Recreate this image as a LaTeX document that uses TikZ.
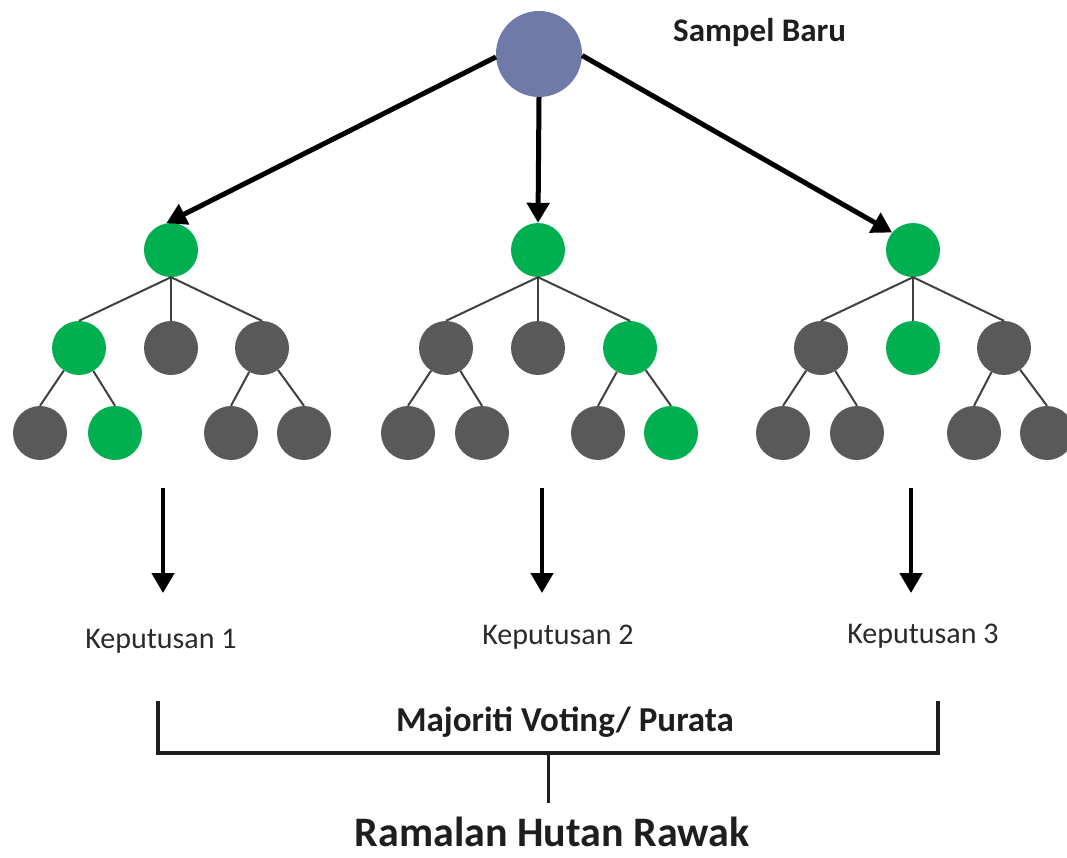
\documentclass[tikz,border=0pt]{standalone}
\usepackage{fontspec}
\setmainfont{Carlito}
\usetikzlibrary{arrows.meta}
\definecolor{rootblue}{HTML}{6F7AA8}
\definecolor{leafgreen}{HTML}{00B050}
\definecolor{leafgray}{HTML}{595959}
\definecolor{inkdark}{HTML}{1E1E1E}
\definecolor{inksoft}{HTML}{2A2A2A}
\begin{document}
\begin{tikzpicture}[x=1pt,y=-1pt,
  dot/.style={circle,minimum size=54pt,inner sep=0pt},
  gnode/.style={dot,fill=leafgreen},
  knode/.style={dot,fill=leafgray},
  branch/.style={draw=inkdark!85,line width=2pt},
  bigarrow/.style={draw=black,line width=5pt,-{Triangle[length=20pt,width=22pt]}},
  downarrow/.style={draw=black,line width=4.5pt,-{Triangle[length=20pt,width=22pt]}},
  label/.style={text=inksoft,inner sep=0pt,font=\fontsize{30}{36}\selectfont},
  boldlabel/.style={text=inkdark,inner sep=0pt,font=\bfseries\fontsize{33}{40}\selectfont},
]
\useasboundingbox (0,0) rectangle (1067,857);

% root sample
\node[circle,minimum size=86pt,inner sep=0pt,fill=rootblue] (root) at (539,54) {};
\node[boldlabel,anchor=west] (sampel) at (673,33) {Sampel Baru};

% tree 1
\node[gnode] (a0) at (171,250) {};
\node[gnode] (a1) at (79,348) {};
\node[knode] (a2) at (171,348) {};
\node[knode] (a3) at (262,348) {};
\node[knode] (a11) at (40,433) {};
\node[gnode] (a12) at (115,433) {};
\node[knode] (a31) at (231,433) {};
\node[knode] (a32) at (304,433) {};

% tree 2
\node[gnode] (b0) at (538,250) {};
\node[knode] (b1) at (446,348) {};
\node[knode] (b2) at (538,348) {};
\node[gnode] (b3) at (630,348) {};
\node[knode] (b11) at (408,433) {};
\node[knode] (b12) at (482,433) {};
\node[knode] (b31) at (598,433) {};
\node[gnode] (b32) at (671,433) {};

% tree 3
\node[gnode] (c0) at (913,250) {};
\node[knode] (c1) at (821,348) {};
\node[gnode] (c2) at (913,348) {};
\node[knode] (c3) at (1004,348) {};
\node[knode] (c11) at (783,433) {};
\node[knode] (c12) at (857,433) {};
\node[knode] (c31) at (974,433) {};
\node[knode] (c32) at (1047,433) {};

% branches
\foreach \t in {a,b,c}{
  \foreach \k in {1,2,3}
    \draw[branch] (\t0.south) -- (\t\k.north);
  \draw[branch] (\t1) -- (\t11.north);
  \draw[branch] (\t1) -- (\t12.north);
  \draw[branch] (\t3) -- (\t31.north);
  \draw[branch] (\t3) -- (\t32.north);
}

% sample sent to each tree
\draw[bigarrow] (root.184) -- (a0.100);
\draw[bigarrow] (root.south) -- (b0.north);
\draw[bigarrow] (root.-2) -- (c0.140);

% decisions
\coordinate (da) at (163,488);
\coordinate (db) at (542,488);
\coordinate (dc) at (911,488);
\node[label] (ka) at (161,641) {Keputusan 1};
\node[label] (kb) at (558,637) {Keputusan 2};
\node[label] (kc) at (923,636) {Keputusan 3};
\draw[downarrow] (da) -- ++(0,105);
\draw[downarrow] (db) -- ++(0,105);
\draw[downarrow] (dc) -- ++(0,105);

% aggregation bracket
\coordinate (bl) at (158,701);
\coordinate (br) at (938,701);
\coordinate (stem) at (548,803);
\draw[draw=inkdark,line width=3.5pt] (bl) |- (br |- 0,753) -- (br);
\draw[draw=inkdark,line width=3pt] (stem |- 0,753) -- (stem);
\node[boldlabel,font=\bfseries\fontsize{35}{42}\selectfont] (vote) at (565,722) {Majoriti Voting/ Purata};
\node[boldlabel,font=\bfseries\fontsize{42}{50}\selectfont] (final) at (552,832) {Ramalan Hutan Rawak};
\end{tikzpicture}
\end{document}
